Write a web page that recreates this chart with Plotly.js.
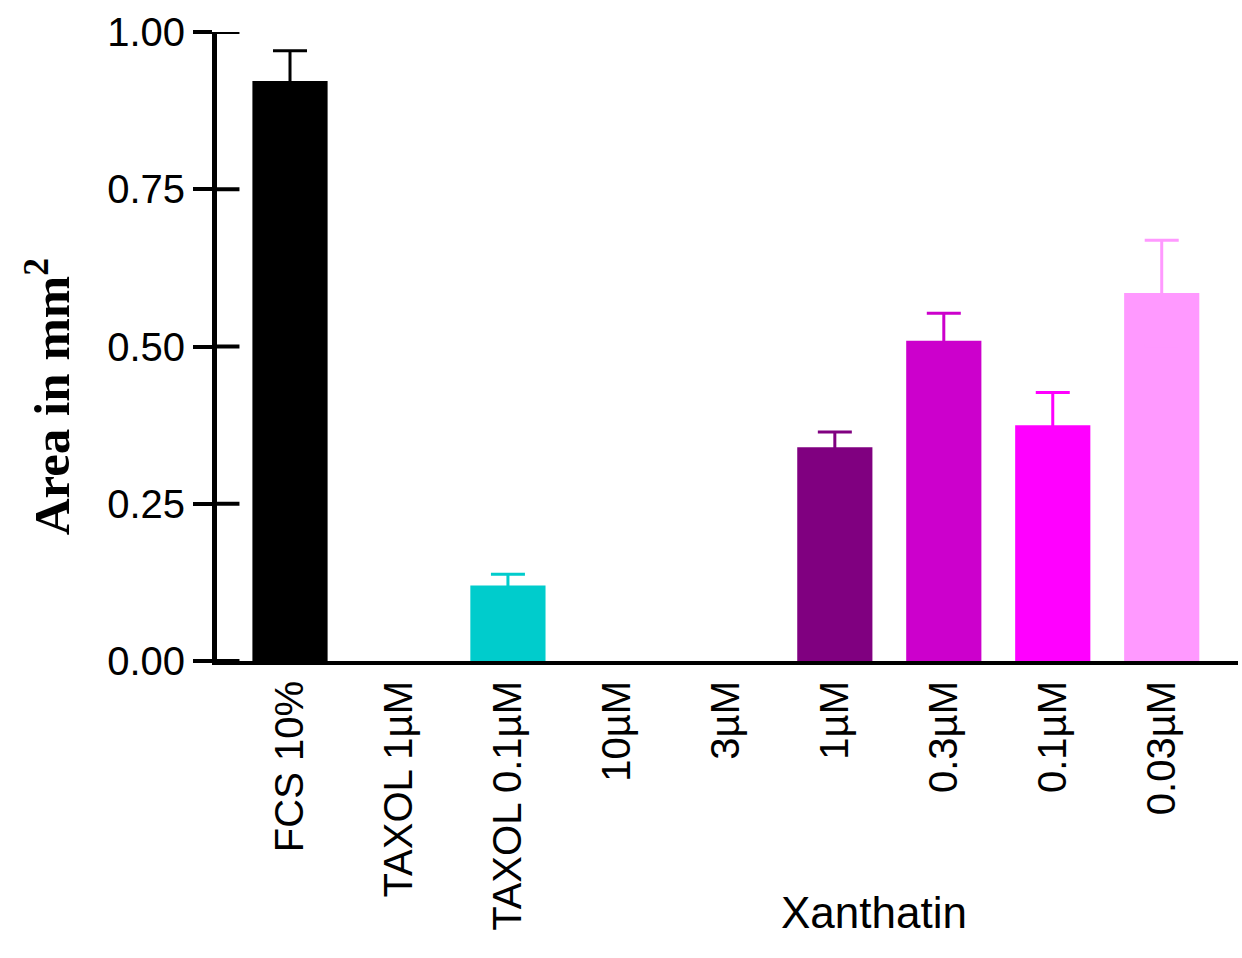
<!DOCTYPE html>
<html>
<head>
<meta charset="utf-8">
<script src="https://cdn.plot.ly/plotly-3.0.1.min.js"></script>
<style>
  html, body { margin: 0; padding: 0; background: #fff; }
  #chart { width: 1242px; height: 958px; }
</style>
</head>
<body>
<div id="chart"></div>
<script>
// ---- data ----
const categories = ["FCS 10%", "TAXOL 1µM", "TAXOL 0.1µM", "10µM", "3µM", "1µM", "0.3µM", "0.1µM", "0.03µM"];
const values     = [0.922, 0, 0.120, 0, 0, 0.340, 0.509, 0.375, 0.585];
const errors     = [0.048, null, 0.018, null, null, 0.024, 0.044, 0.052, 0.084];
const colors     = ["#000000", "#000000", "#00CCCC", "#000000", "#000000", "#800080", "#CC00CC", "#FF00FF", "#FF99FF"];
const yTickVals  = [0, 0.25, 0.5, 0.75, 1.0];
const groupLabel = "Xanthatin";
const yTitle     = "Area in mm<sup>2</sup>";

// error bars drawn symmetric in the bar's own colour: the lower half falls inside the bar and is invisible
const traces = categories.map((c, i) => ({
  type: 'bar',
  x: [c],
  y: [values[i]],
  width: 0.69,
  marker: { color: colors[i], line: { width: 0 } },
  error_y: errors[i] == null ? { visible: false } : {
    type: 'data', symmetric: true,
    array: [errors[i]],
    color: colors[i], thickness: 3, width: 17
  },
  showlegend: false,
  hoverinfo: 'skip'
}));

// inner half of the crossing y ticks
const innerTicks = yTickVals.map(v => ({
  type: 'line', xref: 'paper', yref: 'y',
  x0: 0, x1: 0.022, y0: v, y1: v,
  line: { color: '#000', width: 4 }
}));

const layout = {
  width: 1242, height: 958,
  margin: { l: 217, r: 4, t: 32, b: 297 },
  paper_bgcolor: '#fff', plot_bgcolor: '#fff',
  barmode: 'overlay',
  xaxis: {
    type: 'category',
    categoryorder: 'array', categoryarray: categories,
    range: [-0.67, 8.70],
    showline: true, linecolor: '#000', linewidth: 4,
    ticks: '', tickangle: -90,
    ticklabelstandoff: 0,
    tickfont: { family: 'Liberation Sans, Arial, sans-serif', size: 40, color: '#000' },
    showgrid: false, zeroline: false, fixedrange: true
  },
  yaxis: {
    range: [0, 1.0],
    tickvals: yTickVals, tickformat: '.2f',
    showline: true, linecolor: '#000', linewidth: 5,
    ticks: 'outside', ticklen: 19, tickwidth: 4, tickcolor: '#000',
    tickfont: { family: 'Liberation Sans, Arial, sans-serif', size: 40, color: '#000' },
    showgrid: false, zeroline: false, fixedrange: true
  },
  shapes: innerTicks,
  annotations: [
    {
      xref: 'paper', yref: 'paper', x: 0.643, y: -0.40,
      text: groupLabel, showarrow: false,
      xanchor: 'center', yanchor: 'middle',
      font: { family: 'Liberation Sans, Arial, sans-serif', size: 44, color: '#000' }
    },
    {
      xref: 'paper', yref: 'paper', x: -0.166, y: 0.42,
      text: yTitle, showarrow: false, textangle: -90,
      xanchor: 'center', yanchor: 'middle',
      font: { family: 'Liberation Serif, Times New Roman, serif', size: 51, color: '#000', weight: 'bold' }
    }
  ]
};

Plotly.newPlot('chart', traces, layout, { staticPlot: true, displayModeBar: false });
</script>
</body>
</html>
